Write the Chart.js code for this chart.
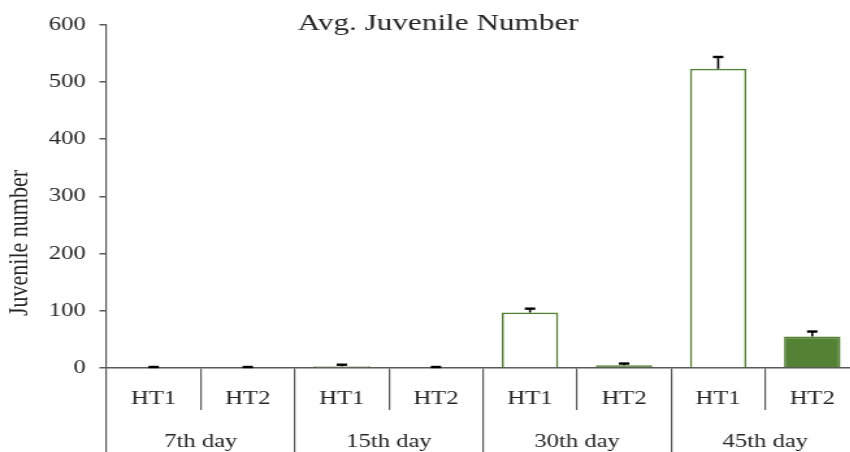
<!DOCTYPE html>
<html>
<head>
<meta charset="utf-8">
<script src="https://cdn.jsdelivr.net/npm/chart.js@4/dist/chart.umd.min.js"></script>
<style>
  html, body { margin: 0; padding: 0; background: #fff; }
  body { width: 850px; height: 452px; overflow: hidden; position: relative; }
  /* the source picture is stretched sideways, so the chart is drawn narrow and scaled */
  #wrap { position: absolute; left: 0; top: 0; width: 664px; height: 452px; transform: scaleX(1.3); transform-origin: 0 0; }
</style>
</head>
<body>
<div id="wrap"><canvas id="juvenile-chart"></canvas></div>
<script>
const days = ["7th day", "15th day", "30th day", "45th day"];
const treatments = ["HT1", "HT2"];
const ht1Means = [0, 3, 97, 523];
const ht2Means = [0, 0, 5, 55];
const ht1Errors = [0, 1, 5, 19];
const ht2Errors = [0, 0, 1, 7];
const yTicks = [0, 100, 200, 300, 400, 500, 600];

const green = "#548235";
const axisColor = "#595959";
const textColor = "#262626";
const serif = "'Liberation Serif', 'Times New Roman', serif";

// one bar per day+treatment, HT1 then HT2
const labels = [];
const values = [];
const errors = [];
const fills = [];
days.forEach((d, i) => {
  labels.push(treatments[0], treatments[1]);
  values.push(ht1Means[i], ht2Means[i]);
  errors.push(ht1Errors[i], ht2Errors[i]);
  fills.push("#ffffff", green);
});

// one sided error bars with a cap
const errorBars = {
  id: "errorBars",
  afterDatasetsDraw(chart) {
    const ctx = chart.ctx;
    const y = chart.scales.y;
    const meta = chart.getDatasetMeta(0);
    ctx.save();
    ctx.strokeStyle = "#000";
    meta.data.forEach((bar, i) => {
      const y0 = y.getPixelForValue(values[i]);
      const y1 = y.getPixelForValue(values[i] + errors[i]) - 1;
      ctx.lineWidth = 1.6;
      ctx.beginPath();
      ctx.moveTo(bar.x, y0);
      ctx.lineTo(bar.x, y1);
      ctx.stroke();
      ctx.lineWidth = 2.4;
      ctx.beginPath();
      ctx.moveTo(bar.x - 4, y1);
      ctx.lineTo(bar.x + 4, y1);
      ctx.stroke();
    });
    ctx.restore();
  }
};

// y axis title sits lower than the axis middle in the source
const yTitle = {
  id: "yTitle",
  afterDraw(chart) {
    const ctx = chart.ctx;
    ctx.save();
    ctx.translate(15.5, 243);
    ctx.rotate(-Math.PI / 2);
    ctx.font = "22px " + serif;
    ctx.fillStyle = textColor;
    ctx.textAlign = "center";
    ctx.textBaseline = "middle";
    ctx.fillText("Juvenile number", 0, 0);
    ctx.restore();
  }
};

const ctx = document.getElementById("juvenile-chart");

new Chart(ctx, {
  type: "bar",
  data: {
    labels: labels,
    datasets: [{
      data: values,
      backgroundColor: fills,
      borderColor: green,
      borderWidth: 1.7,
      categoryPercentage: 1,
      barPercentage: 0.6
    }]
  },
  options: {
    responsive: true,
    maintainAspectRatio: false,
    animation: false,
    devicePixelRatio: 1,
    layout: { padding: { left: 13, right: 3, top: 0, bottom: 0 } },
    plugins: {
      legend: { display: false },
      tooltip: { enabled: false },
      title: {
        display: true,
        text: "Avg. Juvenile Number",
        color: textColor,
        font: { family: serif, size: 24, weight: "normal" },
        padding: { top: 9, bottom: -13 }
      }
    },
    scales: {
      x: {
        position: "bottom",
        grid: { offset: true, drawOnChartArea: false, tickLength: 42, color: axisColor, lineWidth: 1.2 },
        border: { color: axisColor, width: 1.5 },
        ticks: { color: textColor, font: { family: serif, size: 19 }, padding: -22, maxRotation: 0, autoSkip: false },
        afterFit(scale) { scale.height = 42; }
      },
      x2: {
        type: "category",
        position: "bottom",
        labels: days,
        grid: { offset: true, drawOnChartArea: false, tickLength: 42, color: axisColor, lineWidth: 1.2 },
        border: { display: false },
        ticks: { color: textColor, font: { family: serif, size: 19 }, padding: -21, maxRotation: 0, autoSkip: false },
        afterFit(scale) { scale.height = 42; }
      },
      y: {
        min: 0,
        max: 600,
        afterBuildTicks(scale) { scale.ticks = yTicks.map(v => ({ value: v })); },
        grid: { drawOnChartArea: false, tickLength: 5.5, color: axisColor, lineWidth: 1.5 },
        border: { color: axisColor, width: 1.2 },
        ticks: { color: textColor, font: { family: serif, size: 19 }, padding: 10.5 },
        afterFit(scale) { scale.width = 69; }
      }
    }
  },
  plugins: [errorBars, yTitle]
});
</script>
</body>
</html>
